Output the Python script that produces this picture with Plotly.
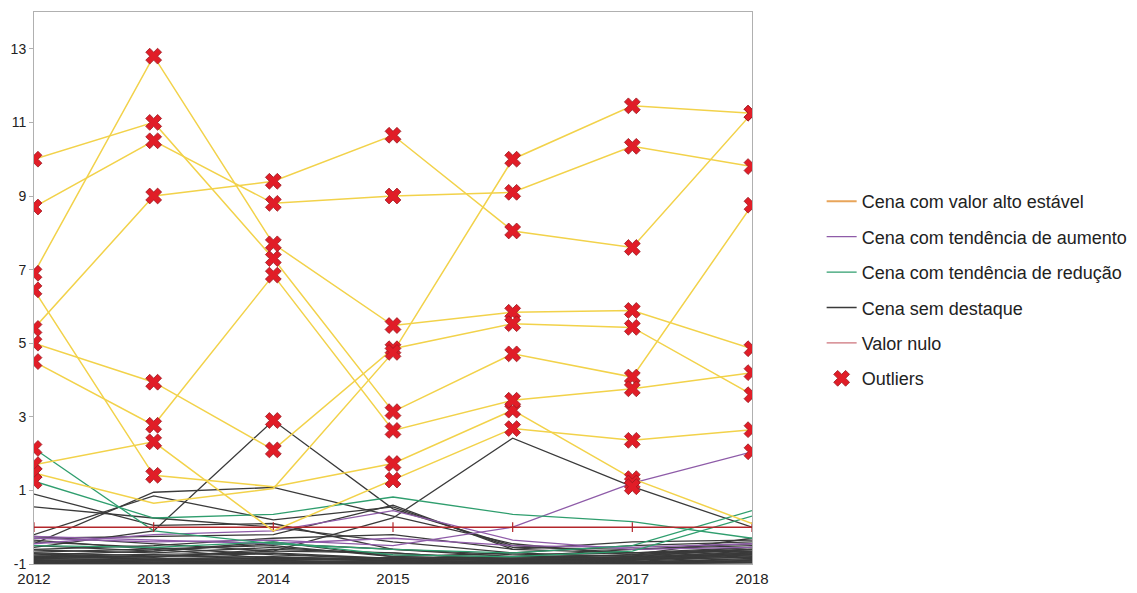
import plotly.graph_objects as go

years = [2012, 2013, 2014, 2015, 2016, 2017, 2018]
year_labels = ["2012", "2013", "2014", "2015", "2016", "2017", "2018"]
y_ticks = [-1, 1, 3, 5, 7, 9, 11, 13]

# Yellow lines (scenes with high values)
high_lines = [
    [10.0, 11.0, 7.3, 3.14, 4.71, 4.08, 8.75],
    [8.7, 10.5, 8.8, 9.0, 9.1, 10.35, 9.8],
    [6.9, 12.8, 7.7, 5.48, 5.84, 5.89, 4.85],
    [6.45, 1.41, 1.1, 1.73, 3.18, 1.32, 0.1],
    [5.4, 9.0, 9.4, 10.65, 8.05, 7.6, 11.25],
    [5.0, 3.94, 2.1, 4.85, 5.53, 5.43, 3.6],
    [4.5, 2.77, 6.85, 2.63, 3.45, 3.76, 4.2],
    [1.7, 2.32, -0.1, 1.28, 2.68, 2.36, 2.65],
    [1.47, 0.65, 1.05, 4.75, 10.0, 11.45, 11.25],
]

increase_lines = [
    [-0.3, -0.4, -0.35, -0.5, 0.0, 1.2, 2.05],
    [-0.45, -0.2, -0.1, 0.45, -0.35, -0.6, -0.55],
    [-0.25, -0.35, -0.45, -0.3, -0.5, -0.55, -0.45],
]

decrease_lines = [
    [1.25, 0.25, 0.35, 0.82, 0.35, 0.15, -0.3],
    [2.14, -0.1, -0.45, -0.6, -0.7, -0.5, 0.45],
    [-0.5, -0.55, -0.4, -0.75, -0.8, -0.65, 0.3],
]

plain_lines = [
    [-0.55, -0.1, 2.9, 0.5, -0.5, -0.7, -0.6],
    [-0.45, 0.95, 1.08, 0.3, -0.45, -0.75, -0.55],
    [0.9, 0.05, 0.1, -0.6, -0.8, -0.85, -0.7],
    [0.55, 0.25, 0.0, -0.4, -0.7, -0.8, -0.75],
    [-0.8, -0.8, -0.65, 0.25, 2.42, 1.1, 0.0],
    [-0.2, 0.85, 0.2, 0.55, -0.55, -0.6, -0.5],
    [-0.3, -0.25, -0.2, 0.6, -0.6, -0.7, -0.65],
    [-0.6, -0.5, -0.3, -0.2, -0.6, -0.4, -0.35],
    [-0.62, -0.7, -0.55, -0.75, -0.8, -0.78, -0.6],
    [-0.68, -0.58, -0.5, -0.8, -0.85, -0.82, -0.65],
    [-0.72, -0.82, -0.6, -0.7, -0.9, -0.85, -0.7],
    [-0.78, -0.75, -0.7, -0.85, -0.88, -0.9, -0.72],
    [-0.82, -0.86, -0.8, -0.9, -0.92, -0.88, -0.78],
    [-0.85, -0.9, -0.84, -0.92, -0.95, -0.93, -0.8],
    [-0.88, -0.92, -0.9, -0.94, -0.93, -0.95, -0.85],
    [-0.9, -0.94, -0.92, -0.95, -0.96, -0.94, -0.88],
    [-0.92, -0.95, -0.94, -0.96, -0.97, -0.96, -0.9],
    [-0.94, -0.96, -0.95, -0.97, -0.98, -0.97, -0.92],
    [-0.95, -0.97, -0.96, -0.98, -0.98, -0.98, -0.94],
    [-0.96, -0.98, -0.97, -0.98, -0.99, -0.98, -0.95],
    [-0.97, -0.98, -0.98, -0.99, -0.99, -0.99, -0.96],
    [-0.98, -0.99, -0.99, -0.99, -0.99, -0.99, -0.97],
    [-0.5, -0.65, -0.45, -0.6, -0.75, -0.7, -0.55],
    [-0.4, -0.55, -0.75, -0.85, -0.8, -0.6, -0.45],
    [-0.35, -0.6, -0.85, -0.9, -0.85, -0.75, -0.3],
    [-0.25, -0.45, -0.65, -0.7, -0.9, -0.8, -0.6],
    [-0.75, -0.65, -0.4, -0.8, -0.7, -0.5, -0.4],
    [-0.86, -0.8, -0.72, -0.88, -0.8, -0.75, -0.6],
    [-0.9, -0.88, -0.86, -0.9, -0.87, -0.82, -0.68],
    [-0.93, -0.9, -0.93, -0.93, -0.9, -0.9, -0.75],
    [-0.8, -0.85, -0.88, -0.82, -0.9, -0.88, -0.82],
    [-0.7, -0.78, -0.82, -0.86, -0.84, -0.86, -0.74],
]

null_line = [0, 0, 0, 0, 0, 0, 0]

# Upper fence per year: values above are flagged as outliers
upper_fence = [1.0, 1.0, 1.5, 1.0, 2.5, 1.0, 1.0]

legend_names = [
    "Cena com valor alto estável",
    "Cena com tendência de aumento",
    "Cena com tendência de redução",
    "Cena sem destaque",
    "Valor nulo",
    "Outliers",
]

C_HIGH_LINE = "#f2d24a"
C_HIGH_LEG = "#e8a55a"
C_INC = "#8e5ba8"
C_DEC = "#2f9e6e"
C_PLAIN = "#3a3a3a"
C_NULL = "#b3262b"
C_OUT = "#e11d27"

FONT = "Arial, Liberation Sans, sans-serif"

fig = go.Figure()

for i, ys in enumerate(plain_lines):
    fig.add_trace(go.Scatter(x=years, y=ys, mode="lines",
                             line=dict(color=C_PLAIN, width=1.3),
                             name=legend_names[3], legendgroup="g4", legendrank=4,
                             showlegend=(i == 0), hoverinfo="skip"))

for i, ys in enumerate(increase_lines):
    fig.add_trace(go.Scatter(x=years, y=ys, mode="lines",
                             line=dict(color=C_INC, width=1.3),
                             name=legend_names[1], legendgroup="g2", legendrank=2,
                             showlegend=(i == 0)))

for i, ys in enumerate(decrease_lines):
    fig.add_trace(go.Scatter(x=years, y=ys, mode="lines",
                             line=dict(color=C_DEC, width=1.3),
                             name=legend_names[2], legendgroup="g3", legendrank=3,
                             showlegend=(i == 0)))

fig.add_trace(go.Scatter(x=years, y=null_line, mode="lines+markers",
                         line=dict(color=C_NULL, width=1.4),
                         marker=dict(symbol="line-ns", size=7,
                                     line=dict(color=C_NULL, width=1.2)),
                         name=legend_names[4], legendgroup="g5", legendrank=5,
                         showlegend=False))
fig.add_trace(go.Scatter(x=[None], y=[None], mode="lines",
                         line=dict(color="#c0505a", width=1),
                         name=legend_names[4], legendgroup="g5", legendrank=5))

for ys in high_lines:
    fig.add_trace(go.Scatter(x=years, y=ys, mode="lines",
                             line=dict(color=C_HIGH_LINE, width=1.5),
                             showlegend=False, legendgroup="g1"))
fig.add_trace(go.Scatter(x=[None], y=[None], mode="lines",
                         line=dict(color=C_HIGH_LEG, width=2),
                         name=legend_names[0], legendgroup="g1", legendrank=1))

# Outliers computed from the series against the per-year fence
ox, oy = [], []
for series in (high_lines, increase_lines, decrease_lines, plain_lines):
    for ys in series:
        for yr, v, f in zip(years, ys, upper_fence):
            if v > f:
                ox.append(yr)
                oy.append(v)
fig.add_trace(go.Scatter(x=ox, y=oy, mode="markers",
                         marker=dict(symbol="x", size=14, color=C_OUT,
                                     line=dict(color="#9a1a22", width=0.8)),
                         name=legend_names[5], legendgroup="g6", legendrank=6))

fig.update_layout(
    width=1129, height=585,
    margin=dict(l=26, r=385, t=4, b=29, autoexpand=False),
    paper_bgcolor="white", plot_bgcolor="white",
    font=dict(family=FONT, size=14, color="#222"),
    showlegend=True,
    legend=dict(x=1.097, y=0.69, xanchor="left", yanchor="top",
                font=dict(family=FONT, size=18, color="#222"),
                tracegroupgap=9, bgcolor="rgba(0,0,0,0)"),
    xaxis=dict(range=[2012, 2018], tickmode="array", tickvals=years,
               ticktext=year_labels, showgrid=False, zeroline=False,
               showline=True, linecolor="#b0b0b0", mirror=True,
               ticks="outside", ticklen=1, tickcolor="rgba(0,0,0,0)",
               tickfont=dict(size=15), automargin=False),
    yaxis=dict(range=[-1, 14], tickmode="array", tickvals=y_ticks,
               ticktext=[str(t) for t in y_ticks], showgrid=False,
               zeroline=False, showline=True, linecolor="#b0b0b0",
               mirror=True, ticks="outside", ticklen=4, tickcolor="#b0b0b0",
               tickfont=dict(size=14), automargin=False),
)

fig.write_html("out.html")
